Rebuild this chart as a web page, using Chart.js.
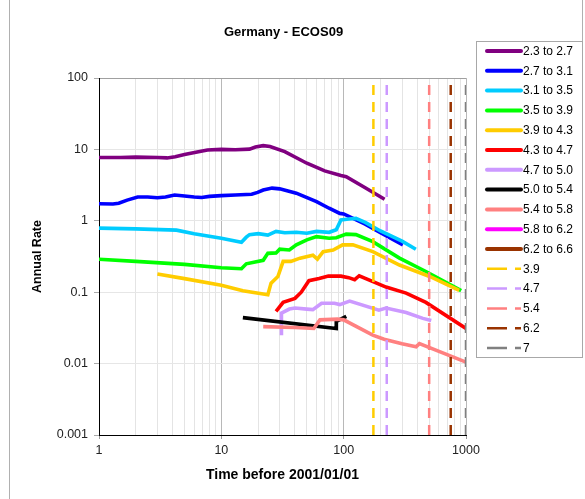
<!DOCTYPE html>
<html><head><meta charset="utf-8">
<script src="https://cdn.jsdelivr.net/npm/chart.js@4.4.0/dist/chart.umd.min.js"></script>
<style>html,body{margin:0;padding:0;background:#fff;}</style>
</head><body>
<canvas id="c" width="585" height="499" style="display:block;width:585px;height:499px"></canvas>
<script>
// ---- data ----
const chartTitle = 'Germany - ECOS09';
const xAxisTitle = 'Time before 2001/01/01';
const yAxisTitle = 'Annual Rate';

const seriesNames = ['2.3 to 2.7','2.7 to 3.1','3.1 to 3.5','3.5 to 3.9','3.9 to 4.3','4.3 to 4.7','4.7 to 5.0','5.0 to 5.4','5.4 to 5.8','5.8 to 6.2','6.2 to 6.6'];
const seriesColors = ['#800080','#0000FF','#00CCFF','#00FF00','#FFCC00','#FF0000','#CC99FF','#000000','#FF8080','#FF00FF','#993300'];

const s1X = [1,1.5,2,3,3.6,4.2,5,6.5,7.7,10,13,17,19,22,25,33,50,70,95,105,150,216];
const s1Y = [7.7,7.7,7.8,7.7,7.6,7.9,8.5,9.3,9.8,10.0,9.9,10.1,10.8,11.3,11.0,9.3,6.4,5.0,4.3,4.15,2.9,2.0];

const s2X = [1,1.3,1.45,1.7,2.07,2.5,3,3.5,4.15,5,6,6.9,8,10,13,17.7,19.8,22,26,30,41,60,76,93,100,150,200,305];
const s2Y = [1.73,1.72,1.76,1.95,2.15,2.15,2.1,2.15,2.3,2.22,2.15,2.12,2.2,2.25,2.3,2.36,2.5,2.7,2.87,2.8,2.44,1.86,1.5,1.27,1.25,0.9,0.68,0.46];

const s3X = [1,2,4.3,6,10,14.6,16,17,20,24,28,33,41,50,60,76,87,95,110,126,150,200,300,389];
const s3Y = [0.79,0.77,0.74,0.66,0.57,0.50,0.59,0.64,0.66,0.63,0.71,0.68,0.69,0.67,0.71,0.69,0.75,1.03,1.06,1.08,0.95,0.72,0.52,0.40];

const s4X = [1,2,5,10,14.6,16,22,24,28,30,36,41,50,60,76,87,105,126,173,286,470,913];
const s4Y = [0.29,0.27,0.245,0.22,0.213,0.25,0.28,0.35,0.355,0.40,0.39,0.46,0.54,0.60,0.57,0.58,0.65,0.64,0.51,0.30,0.195,0.105];

const s5X = [3,5,10,15,24,25.5,29,32,37,44,56,61,68,82,98,119,173,286,505,880];
const s5Y = [0.18,0.155,0.125,0.105,0.092,0.134,0.166,0.27,0.27,0.30,0.33,0.29,0.37,0.39,0.46,0.46,0.37,0.24,0.166,0.106];

const s6X = [28,32,40,45,52,63,75,95,110,123,134,222,324,470,1000];
const s6Y = [0.054,0.072,0.082,0.10,0.145,0.155,0.168,0.168,0.16,0.15,0.17,0.118,0.097,0.072,0.031];

const s7X = [31,31,36,40,50,56,66,84,93,112,194,222,324,444,520];
const s7Y = [0.025,0.051,0.058,0.060,0.058,0.057,0.07,0.07,0.067,0.075,0.056,0.06,0.052,0.043,0.040];

const s8X = [15,87,87,105];
const s8Y = [0.044,0.031,0.039,0.046];

const s9X = [22,40,57,64,89,100,173,214,300,391,416,1000];
const s9Y = [0.033,0.032,0.031,0.041,0.042,0.041,0.025,0.022,0.019,0.0172,0.019,0.0105];

const s10X = [];
const s10Y = [];
const s11X = [];
const s11Y = [];

const seriesX = [s1X,s2X,s3X,s4X,s5X,s6X,s7X,s8X,s9X,s10X,s11X];
const seriesY = [s1Y,s2Y,s3Y,s4Y,s5Y,s6Y,s7Y,s8Y,s9Y,s10Y,s11Y];

const markerNames = ['3.9','4.7','5.4','6.2','7'];
const markerColors = ['#FFCC00','#CC99FF','#FF8080','#993300','#808080'];
const markerX = [175,225,500,750,1000];
const markerYRange = [0.001,100];

const xTickValues = [1,2,3,4,5,6,7,8,9,10,20,30,40,50,60,70,80,90,100,200,300,400,500,600,700,800,900,1000];
const xTickLabels = {1:'1',10:'10',100:'100',1000:'1000'};
const yTickValues = [0.001,0.01,0.1,1,10,100];
const yTickLabels = ['0.001','0.01','0.1','1','10','100'];

// ---- build datasets ----
const datasets = [];
seriesNames.forEach((name,i)=>{
  datasets.push({
    label: name,
    data: seriesX[i].map((x,j)=>({x:x,y:seriesY[i][j]})),
    borderColor: seriesColors[i],
    backgroundColor: seriesColors[i],
    borderWidth: 3.6,
    pointRadius: 0,
    showLine: true,
    fill: false,
    tension: 0,
    order: -i,
    dashed: false
  });
});
markerNames.forEach((name,i)=>{
  datasets.push({
    label: name,
    data: markerYRange.map(y=>({x:markerX[i],y:y})),
    borderColor: markerColors[i],
    backgroundColor: markerColors[i],
    borderWidth: 2.5,
    borderDash: [10,7],
    pointRadius: 0,
    showLine: true,
    fill: false,
    order: -100 - i,
    dashed: true
  });
});

const FONT = "'Liberation Sans', Arial, sans-serif";

const framePlugin = {
  id: 'frame',
  beforeDraw(chart){
    const ctx = chart.ctx;
    ctx.save();
    ctx.fillStyle = '#fff';
    ctx.fillRect(0,0,chart.width,chart.height);
    ctx.restore();
  },
  afterDraw(chart){
    const ctx = chart.ctx;
    const ca = chart.chartArea;
    ctx.save();
    // outer border
    ctx.strokeStyle = '#b0b0b0';
    ctx.lineWidth = 1;
    ctx.beginPath();
    ctx.moveTo(9.5,0); ctx.lineTo(9.5,499);
    ctx.moveTo(582.5,0); ctx.lineTo(582.5,42);
    ctx.stroke();
    // title
    ctx.fillStyle = '#000';
    ctx.font = 'bold 13px ' + FONT;
    ctx.textAlign = 'center';
    ctx.textBaseline = 'middle';
    ctx.fillText(chartTitle, (ca.left+ca.right)/2 + 1, 32);
    // legend
    const lx = 476.5, ly = 41.5, lw = 106, lh = 316;
    ctx.fillStyle = '#fff';
    ctx.fillRect(lx,ly,lw,lh);
    ctx.strokeStyle = '#a8a8a8';
    ctx.strokeRect(lx,ly,lw,lh);
    ctx.font = '12px ' + FONT;
    ctx.textAlign = 'left';
    ctx.textBaseline = 'middle';
    chart.data.datasets.forEach((ds,i)=>{
      const y = 51 + i*19.8;
      ctx.save();
      ctx.strokeStyle = ds.borderColor;
      if (ds.dashed) {
        ctx.lineWidth = 2.5;
        ctx.setLineDash([20,8]);
      } else {
        ctx.lineWidth = 4;
        ctx.lineCap = 'round';
      }
      ctx.beginPath();
      ctx.moveTo(487, y);
      ctx.lineTo(521, y);
      ctx.stroke();
      ctx.restore();
      ctx.fillStyle = '#000';
      ctx.fillText(ds.label, 523, y + 0.5);
    });
    ctx.restore();
  }
};

new Chart(document.getElementById('c'), {
  type: 'scatter',
  data: { datasets },
  plugins: [framePlugin],
  options: {
    responsive: false,
    animation: false,
    devicePixelRatio: 1,
    layout: { padding: { left: 0, top: 78, right: 119, bottom: 0 } },
    plugins: { legend: { display: false }, tooltip: { enabled: false }, title: { display: false } },
    elements: { line: { tension: 0 } },
    scales: {
      x: {
        type: 'logarithmic',
        min: 1, max: 1000,
        afterFit(scale){ scale.height = 64; },
        afterBuildTicks(scale){ scale.ticks = xTickValues.map(v=>({value:v, major: !!xTickLabels[v]})); },
        border: { display: true, color: '#000', width: 1 },
        grid: {
          color: (c)=> (c.tick && xTickLabels[c.tick.value]) ? '#b8b8b8' : '#e4e4e4',
          tickColor: (c)=> (c.tick && xTickLabels[c.tick.value]) ? '#999' : 'rgba(0,0,0,0)',
          tickLength: 4,
          drawTicks: true
        },
        ticks: {
          autoSkip: false,
          maxRotation: 0,
          padding: 4,
          color: '#222',
          font: { family: FONT, size: 12.5 },
          callback: (v)=> xTickLabels[v] || ''
        },
        title: {
          display: true,
          text: xAxisTitle,
          color: '#000',
          font: { family: FONT, size: 14, weight: 'bold' },
          padding: { top: 0, bottom: 15 }
        }
      },
      y: {
        type: 'logarithmic',
        min: 0.001, max: 100,
        afterFit(scale){ scale.width = 99; },
        afterBuildTicks(scale){ scale.ticks = yTickValues.map(v=>({value:v, major:true})); },
        border: { display: true, color: '#000', width: 1 },
        grid: {
          color: (c)=> (c.tick && c.tick.value === 100) ? '#a0a0a0' : '#e6e6e6',
          tickColor: '#aaa',
          tickLength: 5,
          drawTicks: true
        },
        ticks: {
          autoSkip: false,
          padding: 6,
          color: '#222',
          font: { family: FONT, size: 12.5 },
          callback: (v)=> { const k = yTickValues.indexOf(v); return k >= 0 ? yTickLabels[k] : ''; }
        },
        title: {
          display: true,
          text: yAxisTitle,
          color: '#000',
          font: { family: FONT, size: 12.5, weight: 'bold' },
          padding: { top: 30, bottom: 0 }
        }
      }
    }
  }
});
</script>
</body></html>
